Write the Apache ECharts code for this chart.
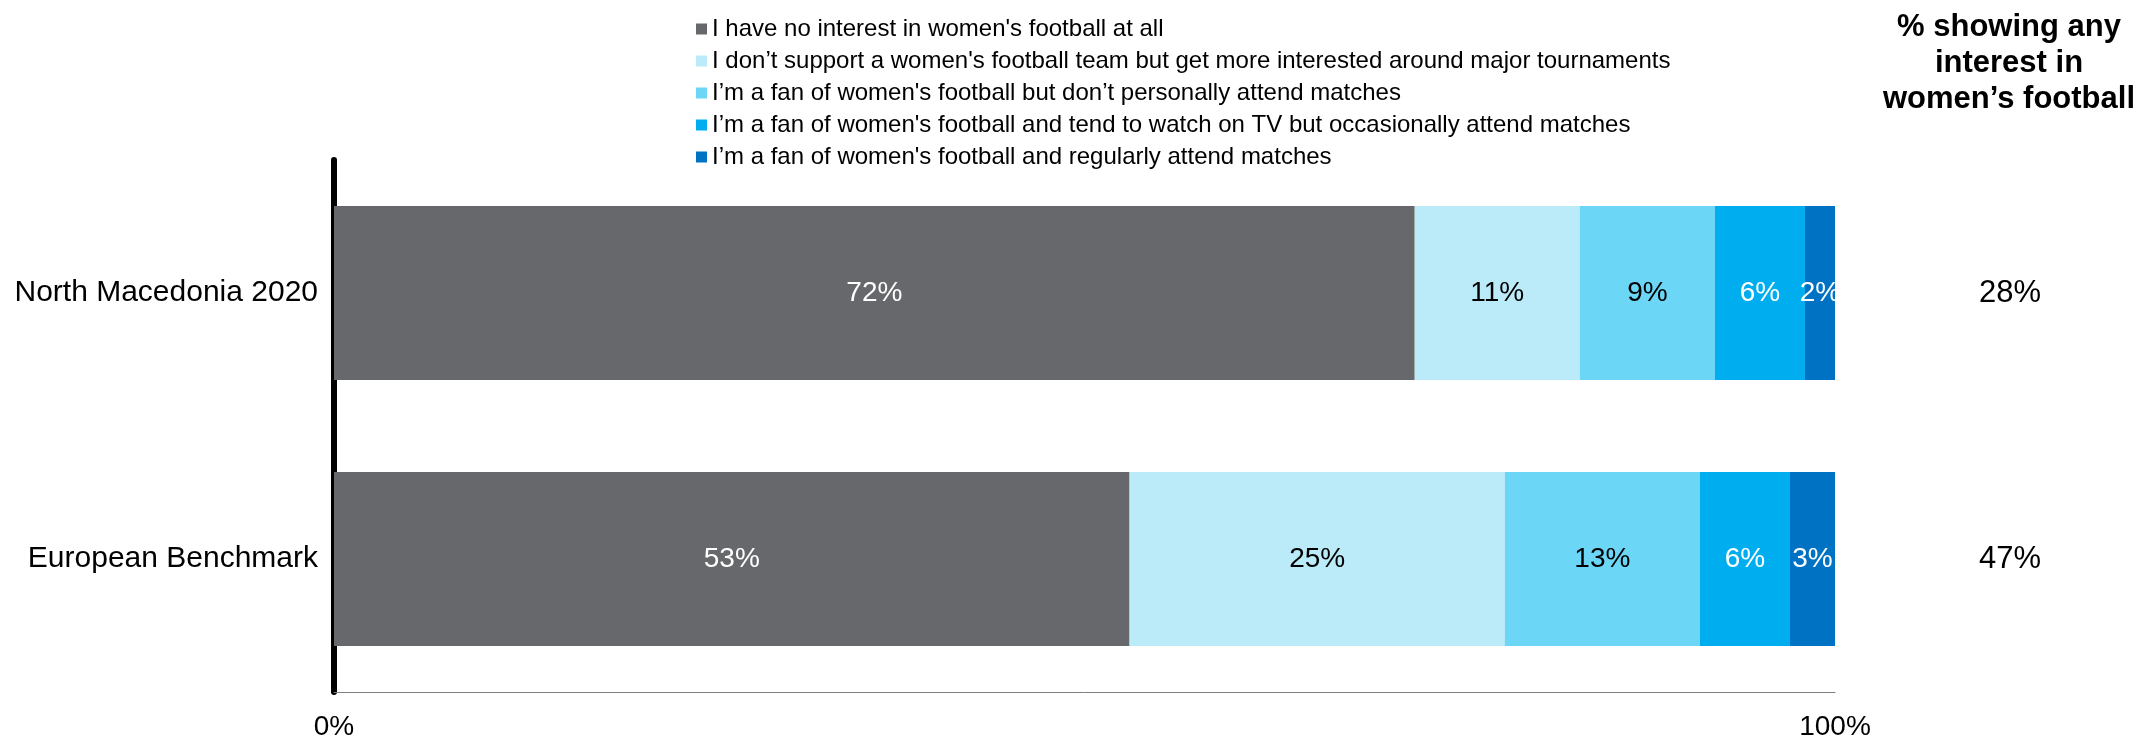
<!DOCTYPE html>
<html>
<head>
<meta charset="utf-8">
<script src="https://cdn.jsdelivr.net/npm/echarts@6/dist/echarts.min.js"></script>
<style>
html,body{margin:0;padding:0;background:#fff;}
#chart{width:2141px;height:741px;}
</style>
</head>
<body>
<div id="chart"></div>
<script>
var categories = ['North Macedonia 2020', 'European Benchmark'];
var seriesNames = [
  'I have no interest in women\'s football at all',
  'I don\u2019t support a women\'s football team but get more interested around major tournaments',
  'I\u2019m a fan of women\'s football but don\u2019t personally attend matches',
  'I\u2019m a fan of women\'s football and tend to watch on TV but occasionally attend matches',
  'I\u2019m a fan of women\'s football and regularly attend matches'
];
var noInterest = [72, 53];
var tournaments = [11, 25];
var fanNoAttend = [9, 13];
var fanTV = [6, 6];
var fanRegular = [2, 3];
var anyInterest = [28, 47];
var xTicks = [0, 100];

var colors = ['#67686c', '#bbeaf9', '#6cd6f7', '#00aeef', '#0072c4'];
var labelColors = ['#ffffff', '#000000', '#000000', '#ffffff', '#ffffff'];
var values = [noInterest, tournaments, fanNoAttend, fanTV, fanRegular];
var FONT = '"Liberation Sans", Arial, sans-serif';

var series = values.map(function (vals, i) {
  return {
    name: seriesNames[i],
    type: 'bar',
    stack: 'total',
    barWidth: 174,
    data: vals,
    itemStyle: { color: colors[i] },
    label: {
      show: true,
      position: 'inside',
      formatter: '{c}%',
      color: labelColors[i],
      fontFamily: FONT,
      fontSize: 28
    },
    emphasis: { disabled: true }
  };
});

var chart = echarts.init(document.getElementById('chart'), null, { renderer: 'canvas' });
chart.setOption({
  animation: false,
  backgroundColor: '#ffffff',
  title: {
    text: '% showing any\ninterest in\nwomen\u2019s football',
    left: 2009,
    top: 9,
    textAlign: 'center',
    padding: 0,
    textStyle: {
      fontFamily: FONT,
      fontSize: 31,
      fontWeight: 'bold',
      color: '#000',
      lineHeight: 36
    }
  },
  legend: {
    orient: 'vertical',
    left: 696,
    top: 17,
    padding: 0,
    itemWidth: 11,
    itemHeight: 11,
    itemGap: 8,
    icon: 'rect',
    selectedMode: false,
    data: seriesNames,
    textStyle: {
      fontFamily: FONT,
      fontSize: 24,
      lineHeight: 24,
      color: '#000'
    }
  },
  grid: { left: 334, right: 306, top: 160, bottom: 48, containLabel: false },
  xAxis: {
    type: 'value',
    min: xTicks[0],
    max: xTicks[1],
    interval: xTicks[1] - xTicks[0],
    axisLine: { show: true, lineStyle: { color: '#7f7f7f', width: 1 } },
    axisTick: { show: false },
    splitLine: { show: false },
    axisLabel: {
      formatter: '{value}%',
      color: '#000',
      fontFamily: FONT,
      fontSize: 28,
      margin: 21
    }
  },
  yAxis: [{
    type: 'category',
    data: categories,
    inverse: true,
    offset: 3,
    axisLine: { show: true, lineStyle: { color: '#000', width: 6 } },
    axisTick: { show: false },
    axisLabel: {
      color: '#000',
      fontFamily: FONT,
      fontSize: 30,
      margin: 13
    }
  }, {
    type: 'category',
    data: anyInterest.map(function (v) { return v + '%'; }),
    inverse: true,
    position: 'right',
    axisLine: { show: false },
    axisTick: { show: false },
    axisLabel: {
      color: '#000',
      fontFamily: FONT,
      fontSize: 31,
      align: 'center',
      padding: [10, 0, 0, 0],
      margin: 175
    }
  }],
  series: series
});
</script>
</body>
</html>
